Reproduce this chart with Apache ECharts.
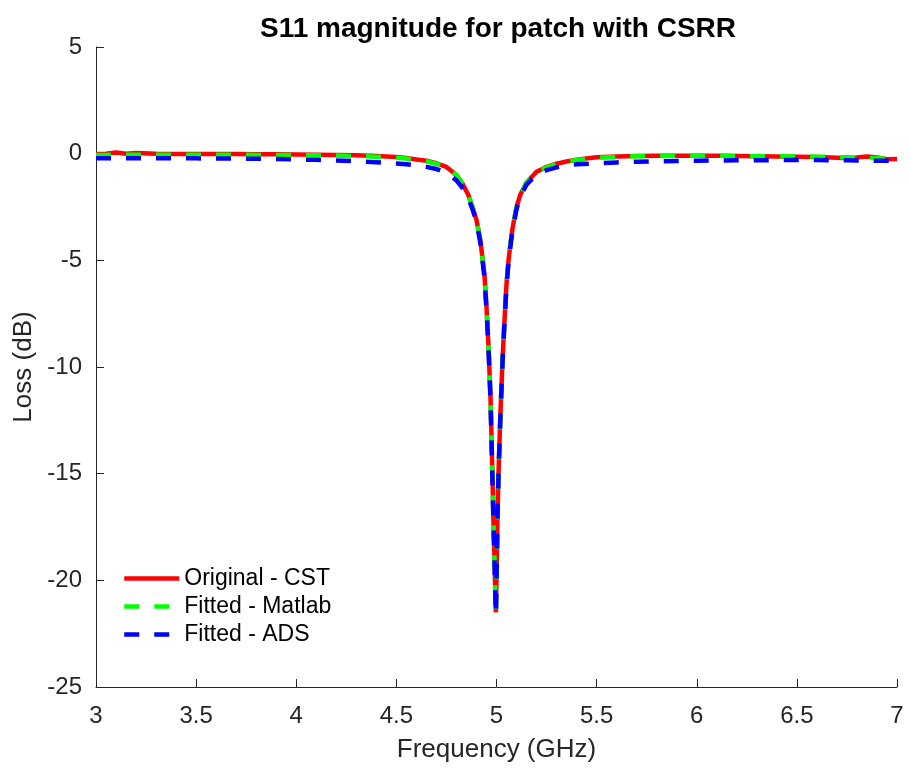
<!DOCTYPE html>
<html>
<head>
<meta charset="utf-8">
<script src="https://cdn.jsdelivr.net/npm/echarts@6/dist/echarts.min.js"></script>
<style>html,body{margin:0;padding:0;background:#fff;}#c{width:911px;height:769px;}</style>
</head>
<body>
<div id="c"></div>
<script>
// Frequency points (GHz)
var freq = [3.0,3.05,3.1,3.15,3.2,3.3,3.4,3.5,3.6,3.7,3.8,3.9,4.0,4.1,4.2,4.3,4.4,4.5,4.55,4.6,4.65,4.7,4.75,4.8,4.83,4.86,4.88,4.9,4.92,4.94,4.95,4.96,4.97,4.98,4.985,4.99,4.995,4.997,5.0,5.005,5.01,5.015,5.02,5.03,5.04,5.05,5.06,5.07,5.08,5.1,5.12,5.15,5.2,5.25,5.3,5.35,5.4,5.5,5.6,5.7,5.8,5.9,6.0,6.1,6.2,6.3,6.4,6.5,6.6,6.7,6.75,6.8,6.85,6.9,6.95,7.0];

// Original - CST (dB)
var cst = [-0.02,0.0,0.05,0.0,0.03,0.0,-0.02,-0.02,-0.01,-0.02,-0.03,-0.03,-0.04,-0.05,-0.06,-0.08,-0.11,-0.16,-0.2,-0.27,-0.33,-0.45,-0.62,-1.0,-1.4,-1.95,-2.5,-3.1,-4.1,-5.7,-7.2,-9.0,-11.4,-15.2,-17.3,-19.0,-21.0,-21.5,-19.9,-17.0,-15.0,-13.5,-12.1,-9.7,-7.8,-6.1,-5.0,-4.2,-3.5,-2.5,-1.9,-1.35,-0.85,-0.62,-0.47,-0.37,-0.28,-0.17,-0.13,-0.11,-0.1,-0.1,-0.1,-0.1,-0.11,-0.12,-0.13,-0.14,-0.16,-0.19,-0.21,-0.18,-0.13,-0.18,-0.26,-0.25];

// Fitted - Matlab (dB)
var matlab = [-0.06,-0.06,-0.05,-0.05,-0.05,-0.05,-0.05,-0.05,-0.05,-0.05,-0.06,-0.06,-0.07,-0.08,-0.09,-0.11,-0.14,-0.19,-0.23,-0.29,-0.36,-0.47,-0.64,-1.0,-1.4,-1.95,-2.5,-3.1,-4.1,-5.7,-7.2,-9.0,-11.4,-15.2,-17.3,-19.0,-21.0,-21.5,-19.9,-17.0,-15.0,-13.5,-12.1,-9.7,-7.8,-6.1,-5.0,-4.2,-3.5,-2.5,-1.9,-1.35,-0.86,-0.64,-0.49,-0.39,-0.3,-0.2,-0.15,-0.12,-0.11,-0.1,-0.1,-0.1,-0.11,-0.12,-0.12,-0.13,-0.14,-0.16,-0.17,-0.18,-0.2,-0.22,-0.24,-0.26];

// Fitted - ADS (dB)
var ads = [-0.22,-0.22,-0.22,-0.22,-0.22,-0.22,-0.22,-0.22,-0.23,-0.23,-0.24,-0.25,-0.27,-0.29,-0.32,-0.36,-0.4,-0.46,-0.5,-0.55,-0.62,-0.72,-0.9,-1.25,-1.6,-2.1,-2.6,-3.2,-4.2,-5.8,-7.3,-9.1,-11.5,-15.3,-17.4,-19.1,-21.1,-21.6,-20.0,-17.1,-15.1,-13.6,-12.2,-9.8,-7.9,-6.2,-5.1,-4.3,-3.6,-2.6,-2.0,-1.45,-0.98,-0.77,-0.64,-0.55,-0.5,-0.45,-0.41,-0.38,-0.36,-0.34,-0.33,-0.32,-0.31,-0.31,-0.3,-0.3,-0.3,-0.31,-0.31,-0.32,-0.32,-0.33,-0.33,-0.33];

var xTicks = [3,3.5,4,4.5,5,5.5,6,6.5,7];
var yTicks = [-25,-20,-15,-10,-5,0,5];

function pairs(vals){ return freq.map(function(f,i){ return [f, vals[i]]; }); }

var FONT = 'Liberation Sans, Arial, sans-serif';
var chart = echarts.init(document.getElementById('c'), null, {renderer:'canvas'});
chart.setOption({
  animation: false,
  backgroundColor: '#ffffff',
  title: {
    text: 'S11 magnitude for patch with CSRR',
    left: 493, textAlign: 'center', top: 10,
    textStyle: {fontFamily: FONT, fontSize: 28, fontWeight: 'bold', color: '#000'}
  },
  grid: {left: 96, right: 14, top: 47, bottom: 82, containLabel: false},
  legend: {
    orient: 'vertical', left: 122, top: 567, padding: 0,
    itemWidth: 55, itemHeight: 14, itemGap: 5,
    itemStyle: {opacity: 0, borderWidth: 0},
    lineStyle: {width: 4.5},
    textStyle: {fontFamily: FONT, fontSize: 23, color: '#000', lineHeight: 20},
    data: ['Original - CST','Fitted - Matlab','Fitted - ADS']
  },
  xAxis: {
    type: 'value', min: xTicks[0], max: xTicks[xTicks.length-1], interval: 0.5,
    name: 'Frequency (GHz)', nameLocation: 'middle', nameGap: 50,
    nameTextStyle: {fontFamily: FONT, fontSize: 26, color: '#262626'},
    axisLine: {show: true, onZero: false, lineStyle: {color: '#262626', width: 1}},
    axisTick: {show: true, inside: true, length: 8, lineStyle: {color: '#262626'}},
    axisLabel: {fontFamily: FONT, fontSize: 24, color: '#262626', margin: 17},
    splitLine: {show: false}
  },
  yAxis: {
    type: 'value', min: yTicks[0], max: yTicks[yTicks.length-1], interval: 5,
    name: 'Loss (dB)', nameLocation: 'middle', nameGap: 54,
    nameTextStyle: {fontFamily: FONT, fontSize: 26, color: '#262626'},
    axisLine: {show: true, onZero: false, lineStyle: {color: '#262626', width: 1}},
    axisTick: {show: true, inside: true, length: 8, lineStyle: {color: '#262626'}},
    axisLabel: {fontFamily: FONT, fontSize: 24, color: '#262626', margin: 14},
    splitLine: {show: false}
  },
  series: [
    {name: 'Original - CST', type: 'line', data: pairs(cst), symbol: 'none', showSymbol: false,
     lineStyle: {color: '#ff0000', width: 4.5, type: 'solid'}, itemStyle: {color: '#ff0000'}, z: 2},
    {name: 'Fitted - Matlab', type: 'line', data: pairs(matlab), symbol: 'none', showSymbol: false,
     lineStyle: {color: '#00ff00', width: 4.5, type: [15,15]}, itemStyle: {color: '#00ff00'}, z: 3},
    {name: 'Fitted - ADS', type: 'line', data: pairs(ads), symbol: 'none', showSymbol: false,
     lineStyle: {color: '#0000ff', width: 4.5, type: [15,15]}, itemStyle: {color: '#0000ff'}, z: 4}
  ]
});
</script>
</body>
</html>
